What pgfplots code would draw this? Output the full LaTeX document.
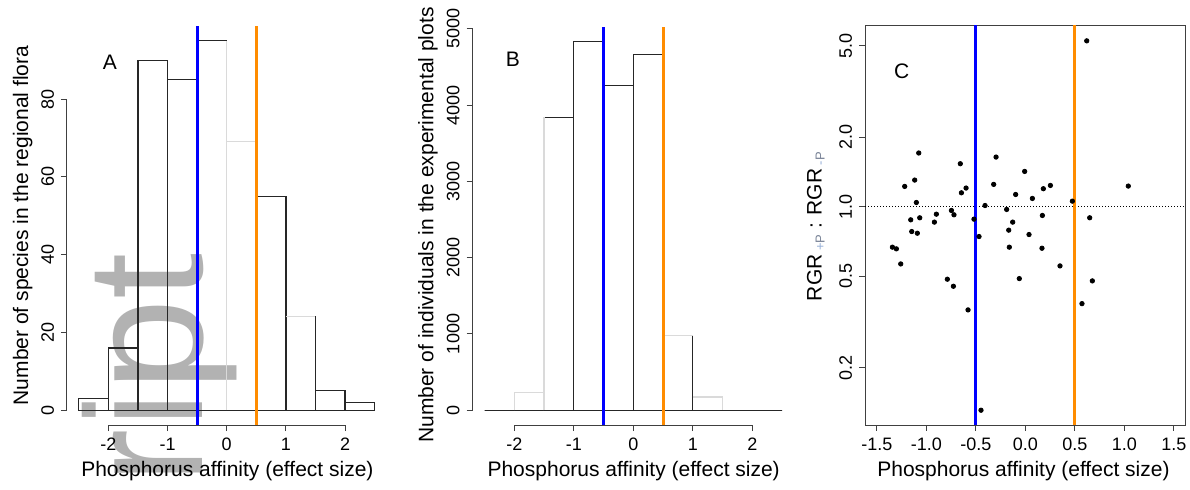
\documentclass[border=0pt]{standalone}
\usepackage{fontspec}
\setmainfont{Liberation Sans}
\usepackage{pgfplots}
\pgfplotsset{compat=1.18}
\definecolor{wm}{RGB}{178,178,178}
\definecolor{lbar}{RGB}{218,218,218}
\definecolor{myorange}{RGB}{255,140,0}
\definecolor{myblue}{RGB}{0,0,255}
\definecolor{subA}{RGB}{150,175,215}
\definecolor{subB}{RGB}{120,130,150}
\pgfplotsset{
 rstyle/.style={
  scale only axis,
  anchor=south west,
  separate axis lines,
  axis x line*=bottom,
  axis y line*=left,
  axis line style={draw=none,-},
  tick align=outside,
  major tick length=3pt,
  tick style={black!75, line width=0.5pt},
  ticklabel style={font=\fontsize{9}{10}\selectfont},
  yticklabel style={rotate=90, anchor=south},
  label style={font=\fontsize{10.5}{12}\selectfont},
  scaled ticks=false,
  clip=false,
 },
 bars/.style={ybar interval, draw=black!85, fill=none, line width=0.6pt},
 lite/.style={lbar, line width=0.6pt, forget plot},
 vline/.style={line width=1.5pt},
}
\begin{document}
\begin{tikzpicture}
\useasboundingbox (0pt,-244.5pt) rectangle (595pt,0pt);
\node[rotate=90, anchor=base east, inner sep=0pt, text=wm, font=\fontsize{83}{90}\selectfont] at (101pt,-126.5pt) {ript};

% Panel A
\begin{axis}[rstyle, at={(33.5pt,-212.5pt)}, width=159.75pt, height=199.5pt,
  xmin=-2.7, xmax=2.7, ymin=-3.8, ymax=98.8,
  xtick={-2,-1,0,1,2}, xticklabels={-2,-1,0,1,2},
  ytick={0,20,40,60,80}, yticklabels={0,20,40,60,80},
  xlabel={Phosphorus affinity (effect size)},
  ylabel={Number of species in the regional flora},
  xlabel style={at={(axis description cs:0.502,-0.1296)}, anchor=base},
  ylabel style={at={(axis description cs:-0.122,0.5)}, anchor=base}]
\addplot[bars] coordinates {(-2.5,3) (-2,16) (-1.5,90) (-1,85) (-0.5,95) (0,69) (0.5,55) (1,24) (1.5,5) (2,2) (2.5,2)};
\addplot[lite] coordinates {(0,0) (0,95)};
\addplot[lite] coordinates {(0,69) (0.5,69)};
\addplot[lite] coordinates {(1,24) (1.5,24)};
\addplot[black!75, line width=0.5pt] coordinates {(-2,-3.8) (2,-3.8)};
\addplot[black!75, line width=0.5pt] coordinates {(-2.7,0) (-2.7,80)};
\addplot[myblue, vline] coordinates {(-0.5,-3.8) (-0.5,98.8)};
\addplot[myorange, vline] coordinates {(0.5,-3.8) (0.5,98.8)};
\node[font=\fontsize{10.5}{12}\selectfont, inner sep=0pt] at (axis description cs:0.1346,0.908) {A};
\end{axis}

% Panel B
\begin{axis}[rstyle, at={(236.35pt,-212.5pt)}, width=160.65pt, height=199.15pt,
  xmin=-2.7, xmax=2.7, ymin=-193.4, ymax=5028.4,
  xtick={-2,-1,0,1,2}, xticklabels={-2,-1,0,1,2},
  ytick={0,1000,2000,3000,4000,5000}, yticklabels={0,1000,2000,3000,4000,5000},
  xlabel={Phosphorus affinity (effect size)},
  ylabel={Number of individuals in the experimental plots},
  xlabel style={at={(axis description cs:0.501,-0.1298)}, anchor=base},
  ylabel style={at={(axis description cs:-0.1226,0.502)}, anchor=base}]
\addplot[bars] coordinates {(-2.5,0) (-2,235) (-1.5,3840) (-1,4835) (-0.5,4255) (0,4665) (0.5,977) (1,173) (1.5,0) (2,0) (2.5,0)};
\addplot[lite] coordinates {(-2,0) (-2,235) (-1.5,235)};
\addplot[lite] coordinates {(-1.5,0) (-1.5,3840)};
\addplot[lite] coordinates {(0.5,977) (1,977)};
\addplot[lite] coordinates {(1,173) (1.5,173) (1.5,0)};
\addplot[black!75, line width=0.5pt] coordinates {(-2,-193.4) (2,-193.4)};
\addplot[black!75, line width=0.5pt] coordinates {(-2.7,0) (-2.7,5000)};
\addplot[myblue, vline] coordinates {(-0.5,-193.4) (-0.5,5028.4)};
\addplot[myorange, vline] coordinates {(0.5,-193.4) (0.5,5028.4)};
\node[font=\fontsize{10.5}{12}\selectfont, inner sep=0pt] at (axis description cs:0.125,0.919) {B};
\end{axis}

% Panel C
\begin{axis}[scale only axis, anchor=south west, at={(432.5pt,-212.5pt)}, width=160.35pt, height=200pt,
  ymode=log, xmin=-1.62, xmax=1.62, ymin=0.113, ymax=6.15,
  axis line style={black!75, line width=0.5pt},
  tick align=outside, major tick length=3pt,
  tick style={black!75, line width=0.5pt},
  xtick pos=bottom, ytick pos=left,
  ticklabel style={font=\fontsize{9}{10}\selectfont},
  yticklabel style={rotate=90, anchor=south},
  label style={font=\fontsize{10.5}{12}\selectfont},
  xtick={-1.5,-1,-0.5,0,0.5,1,1.5}, xticklabels={-1.5,-1.0,-0.5,0.0,0.5,1.0,1.5},
  ytick={0.2,0.5,1,2,5}, yticklabels={0.2,0.5,1.0,2.0,5.0},
  minor tick num=0,
  xlabel={Phosphorus affinity (effect size)},
  ylabel={RGR\,\raisebox{-1.5pt}{\fontsize{6.5}{7}\selectfont\textcolor{subA}{+}\textcolor{subB}{P}} : RGR\,\raisebox{-1.5pt}{\fontsize{6.5}{7}\selectfont\textcolor{subA}{-}\textcolor{subB}{P}}},
  xlabel style={at={(axis description cs:0.494,-0.129)}, anchor=base},
  ylabel style={at={(axis description cs:-0.135,0.496)}, anchor=base},
  clip=false]
\addplot[black, densely dotted, line width=0.5pt] coordinates {(-1.62,1) (1.62,1)};
\addplot[myblue, vline] coordinates {(-0.5,0.113) (-0.5,6.15)};
\addplot[myorange, vline] coordinates {(0.5,0.113) (0.5,6.15)};
\addplot[only marks, mark=*, mark size=1.1pt, black] coordinates {
(0.620,5.25) (-1.077,1.712) (-0.296,1.644) (-0.657,1.538) (-0.007,1.424)
(-1.118,1.306) (-1.219,1.226) (-0.599,1.206) (-0.320,1.251) (0.253,1.238)
(0.182,1.198) (1.040,1.230) (-0.646,1.150) (-0.098,1.131) (0.071,1.087)
(-1.101,1.044) (0.475,1.058) (-0.407,1.013) (-0.189,0.974) (-0.747,0.964)
(-0.899,0.929) (-0.721,0.923) (0.172,0.917) (-1.067,0.896) (-1.158,0.878)
(-0.519,0.884) (0.650,0.896) (-0.919,0.858) (-0.128,0.858) (-1.148,0.781)
(-1.091,0.768) (-0.168,0.792) (0.037,0.758) (-0.468,0.743) (-1.343,0.668)
(-1.303,0.657) (-0.162,0.668) (0.168,0.661) (-1.259,0.565) (0.350,0.554)
(-0.788,0.485) (-0.061,0.488) (0.677,0.477) (-0.727,0.452) (0.572,0.380)
(-0.579,0.357) (-0.448,0.131)};
\node[font=\fontsize{10.5}{12}\selectfont, inner sep=0pt] at (axis description cs:0.1144,0.8855) {C};
\end{axis}
\end{tikzpicture}
\end{document}
